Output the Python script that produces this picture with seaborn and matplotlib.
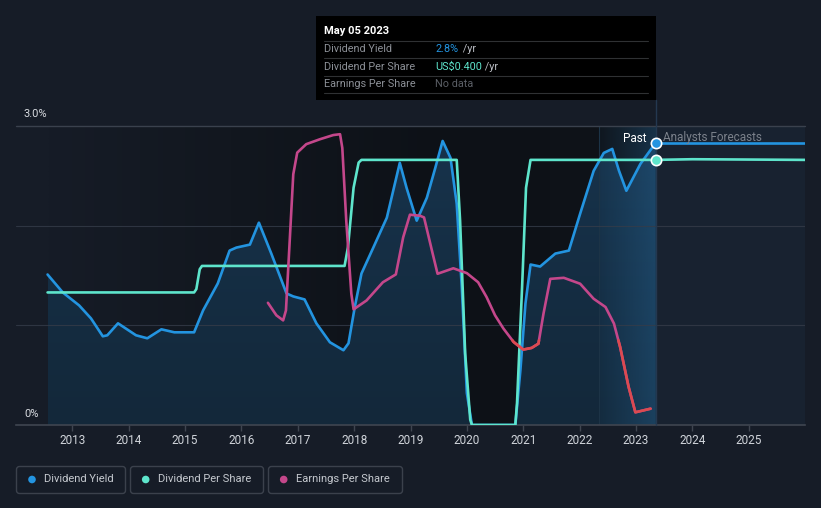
import numpy as np
import pandas as pd
import matplotlib
matplotlib.use("Agg")
import matplotlib.pyplot as plt
import seaborn as sns
from matplotlib.patches import Rectangle, FancyBboxPatch, Polygon, Circle
from matplotlib.colors import to_rgb

# ---------------- data ----------------
yield_years = [2012.56, 2012.83, 2013.12, 2013.33, 2013.54, 2013.62, 2013.81, 2014.13, 2014.33, 2014.58,
               2014.81, 2015.16, 2015.32, 2015.58, 2015.79, 2015.91, 2016.15, 2016.31, 2016.53,
               2016.80, 2016.92, 2017.12, 2017.33, 2017.57, 2017.81, 2017.90, 2018.01, 2018.13,
               2018.34, 2018.58, 2018.81, 2018.93, 2019.11, 2019.29, 2019.44, 2019.57, 2019.71,
               2019.82, 2019.91, 2020.00, 2020.09, 2020.86, 2020.95, 2021.04, 2021.13, 2021.30,
               2021.57, 2021.81, 2022.01, 2022.25, 2022.43, 2022.58, 2022.70, 2022.83, 2023.08,
               2023.35]
yield_pct = [1.51, 1.33, 1.20, 1.07, 0.89, 0.90, 1.02, 0.90, 0.87, 0.96,
             0.93, 0.93, 1.15, 1.42, 1.75, 1.78, 1.81, 2.03, 1.72,
             1.32, 1.29, 1.26, 1.02, 0.83, 0.75, 0.82, 1.18, 1.52,
             1.78, 2.08, 2.63, 2.38, 2.05, 2.28, 2.58, 2.85, 2.68,
             2.22, 1.38, 0.32, 0.00, 0.00, 0.55, 1.22, 1.61, 1.59,
             1.72, 1.75, 2.12, 2.55, 2.73, 2.77, 2.55, 2.35, 2.62,
             2.83]
fc_yield_years = [2023.35, 2026.0]
fc_yield_pct = [2.83, 2.83]

dps_years = [2012.56, 2015.16, 2015.20, 2015.26, 2015.30, 2017.83, 2017.89, 2017.99, 2018.08,
             2018.13, 2019.82, 2019.88, 2019.97, 2020.06, 2020.09, 2020.86, 2020.89, 2020.98,
             2021.05, 2021.13, 2023.35]
dps_usd = [0.20, 0.20, 0.205, 0.235, 0.24, 0.24, 0.268, 0.358, 0.396,
           0.40, 0.40, 0.308, 0.108, 0.008, 0.0, 0.0, 0.033, 0.208,
           0.358, 0.40, 0.40]
fc_dps_years = [2023.35, 2024.0, 2026.0]
fc_dps_usd = [0.40, 0.401, 0.40]

eps_years = [2016.47, 2016.62, 2016.74, 2016.79, 2016.86, 2016.92, 2016.99, 2017.15, 2017.39,
             2017.63, 2017.75, 2017.79, 2017.86, 2017.95, 2017.99, 2018.22, 2018.51, 2018.74,
             2018.87, 2018.99, 2019.17, 2019.24, 2019.38, 2019.48, 2019.76, 2020.00, 2020.20,
             2020.35, 2020.50, 2020.65, 2020.83, 2021.00, 2021.15, 2021.27, 2021.36, 2021.48,
             2021.72, 2022.01, 2022.25, 2022.46, 2022.61, 2022.72, 2022.87, 2022.99, 2023.26]
eps_usd = [0.577, 0.518, 0.494, 0.541, 0.886, 1.184, 1.286, 1.326, 1.349,
           1.369, 1.373, 1.308, 0.965, 0.620, 0.546, 0.588, 0.674, 0.711,
           0.886, 0.993, 0.988, 0.980, 0.824, 0.714, 0.740, 0.717, 0.674,
           0.604, 0.518, 0.455, 0.392, 0.356, 0.364, 0.384, 0.526, 0.690,
           0.695, 0.667, 0.596, 0.557, 0.479, 0.368, 0.180, 0.060, 0.077]

year_ticks = list(range(2013, 2026))
year_labels = [str(y) for y in year_ticks]
legend_labels = ["Dividend Yield", "Dividend Per Share", "Earnings Per Share"]

# ---------------- style ----------------
BG = "#161c27"
BLUE = "#2394e0"
TEAL = "#5ee5cc"
MAGENTA = "#c4478b"
RED = "#dc4a50"
GRID = "#353c49"
LINE_KW = dict(lw=1.9, solid_joinstyle='round', solid_capstyle='round')

sns.set_theme(style="dark")
plt.rcParams['font.family'] = ['Roboto', 'DejaVu Sans']

W, H = 821, 508
fig = plt.figure(figsize=(W / 100, H / 100), dpi=100, facecolor=BG)
ax = fig.add_axes([16 / W, 83 / H, 789 / W, 299 / H])
ax.set_facecolor(BG)

XMIN, XMAX, YMAX = 2012.0, 2026.0, 3.0
NOW = 2023.35
HL0 = 2022.35
DPS_TOP = 0.40 * YMAX / 2.66
EPS_TOP = 0.40 * YMAX / 0.85
EPS_WARN = 0.40

# past background (horizontal gradient)
x0p = yield_years[0]
stops = np.array([0.0, 0.3, 0.65, 1.0])
cols = np.array([to_rgb(c) for c in ["#161c27", "#12171f", "#0d1117", "#0f1319"]])
n = 400
t = np.linspace(0, 1, n)
grad = np.stack([np.interp(t, stops, cols[:, k]) for k in range(3)], axis=-1)[None, :, :]
ax.imshow(grad, extent=[x0p, NOW, 0, YMAX], aspect='auto', origin='lower', zorder=0.2,
          interpolation='bilinear')

# forecast background
ax.axvspan(NOW, XMAX, ymin=0, ymax=1, color="#182230", lw=0, zorder=0.3)

# fill under yield (vertical gradient, clipped)
tv = np.linspace(0, 1, 200)[:, None]
top_c = np.array(to_rgb("#17334c"))
bot_c = np.array(to_rgb("#13283a"))
fillgrad = (bot_c + (top_c - bot_c) * tv)[:, None, :].repeat(2, axis=1)
img = ax.imshow(fillgrad, extent=[x0p, NOW, 0, YMAX], aspect='auto', origin='lower',
                zorder=1, interpolation='bilinear')
verts = [(x0p, 0)] + list(zip(yield_years, yield_pct)) + [(NOW, 0)]
poly = Polygon(verts, closed=True, fc='none', ec='none', transform=ax.transData)
ax.add_patch(poly)
img.set_clip_path(poly)

# last-year highlight band
th = np.linspace(0, 1, 200)
band = np.zeros((1, 200, 4))
band[..., :3] = to_rgb("#2a6fa3")
band[..., 3] = 0.05 + 0.30 * th
ax.imshow(band, extent=[HL0, NOW, 0, YMAX], aspect='auto', origin='lower', zorder=1.5,
          interpolation='bilinear')
ax.axvline(HL0, color="#1c3346", lw=0.8, zorder=1.6)

# grid lines
for g in [1.0, 2.0]:
    ax.axhline(g, color=GRID, lw=0.8, alpha=0.8, zorder=2.5)
ax.axhline(YMAX, color="#3a414d", lw=1.0, zorder=2.5, clip_on=False)

# cursor line
ax.axvline(NOW, ymin=0, ymax=(425 - 100) / 299, color="#243850", lw=1.0, zorder=2.6, clip_on=False)

# dividend yield
sns.lineplot(x=yield_years, y=yield_pct, ax=ax, color=BLUE, zorder=3, **LINE_KW)
sns.lineplot(x=fc_yield_years, y=fc_yield_pct, ax=ax, color=BLUE, zorder=3, **LINE_KW)

ax.set_xlim(XMIN, XMAX)
ax.set_ylim(0, YMAX)

# DPS on its own scale
ax_d = ax.twinx()
ax_d.set_ylim(0, DPS_TOP)
sns.lineplot(x=dps_years, y=dps_usd, ax=ax_d, color=TEAL, zorder=3, **LINE_KW)
sns.lineplot(x=fc_dps_years, y=fc_dps_usd, ax=ax_d, color=TEAL, zorder=3, **LINE_KW)
ax_d.set_xlim(XMIN, XMAX)
ax_d.set_ylim(0, DPS_TOP)
ax_d.set_axis_off()

# EPS on its own scale
ax_e = ax.twinx()
ax_e.set_ylim(0, EPS_TOP)
sns.lineplot(x=eps_years, y=eps_usd, ax=ax_e, color=MAGENTA, zorder=3, **LINE_KW)
ex = np.array(eps_years)
ey = np.array(eps_usd)
xs, ys = [], []
for i in range(len(ex) - 1):
    xs.append(ex[i]); ys.append(ey[i])
    if (ey[i] - EPS_WARN) * (ey[i + 1] - EPS_WARN) < 0:
        f = (EPS_WARN - ey[i]) / (ey[i + 1] - ey[i])
        xs.append(ex[i] + f * (ex[i + 1] - ex[i])); ys.append(EPS_WARN)
xs.append(ex[-1]); ys.append(ey[-1])
xs = np.array(xs); ys = np.array(ys)
ax_e.plot(xs, np.where(ys <= EPS_WARN + 1e-9, ys, np.nan), color=RED, zorder=4, **LINE_KW)
ax_e.set_xlim(XMIN, XMAX)
ax_e.set_ylim(0, EPS_TOP)
ax_e.set_axis_off()

# markers at "now" (on top of everything)
ax_m = ax.twinx()
ax_m.set_ylim(0, DPS_TOP)
ax_m.scatter([fc_dps_years[0]], [fc_dps_usd[0]], s=55, color=TEAL, edgecolor="white", lw=1.2, zorder=6)
ax_m.set_axis_off()
ax_m2 = ax.twinx()
ax_m2.set_ylim(0, YMAX)
ax_m2.scatter([fc_yield_years[0]], [fc_yield_pct[0]], s=55, color=BLUE, edgecolor="white", lw=1.2, zorder=6)
ax_m2.set_xlim(XMIN, XMAX)
ax_m2.set_ylim(0, YMAX)
ax_m2.set_axis_off()
ax_m.set_xlim(XMIN, XMAX)

# axes styling
for s in ["top", "left", "right"]:
    ax.spines[s].set_visible(False)
ax.spines["bottom"].set_color("#3f4550")
ax.spines["bottom"].set_linewidth(1.2)
ax.set_yticks([])
ax.set_xticks(year_ticks)
ax.set_xticklabels(year_labels)
ax.tick_params(axis='x', length=4, width=1, color="#3f4550", labelcolor="#d0d4da",
               labelsize=8.5, pad=2.5, bottom=True)
ax.grid(False)
ax.set_xlabel("")
ax.set_ylabel("")
for a in (ax, ax_d, ax_e):
    leg = a.get_legend()
    if leg:
        leg.remove()

# ---------------- overlay in pixel coords ----------------
ov = fig.add_axes([0, 0, 1, 1])
ov.set_xlim(0, W)
ov.set_ylim(H, 0)
ov.axis('off')

ov.text(24, 114, "3.0%", color="#d8dbe0", fontsize=8, ha='left', va='center')
ov.text(24, 414, "0%", color="#d8dbe0", fontsize=8, ha='left', va='center')
ov.text(646, 138, "Past", color="white", fontsize=8.5, ha='right', va='center')
ov.text(663, 138, "Analysts Forecasts", color="#7b818b", fontsize=8.5, ha='left', va='center')

# tooltip
ov.add_patch(Rectangle((316, 16), 340, 84, fc="black", ec="none", zorder=5))
ov.text(324, 31, "May 05 2023", color="white", fontsize=8, weight='semibold', ha='left',
        va='center', zorder=6)
for yy in [41, 58, 75.5, 93]:
    ov.plot([324, 648], [yy, yy], color="#2f3133", lw=0.8, zorder=6)
rows = [("Dividend Yield", "2.8%", BLUE, " /yr", 460),
        ("Dividend Per Share", "US$0.400", TEAL, " /yr", 482),
        ("Earnings Per Share", "No data", "#5b5f66", "", 0)]
for i, (lab, val, col, suf, sx) in enumerate(rows):
    yy = 49.5 + i * 17.3
    ov.text(324, yy, lab, color="#8c9097", fontsize=7.8, ha='left', va='center', zorder=6)
    ov.text(435, yy, val, color=col, fontsize=7.8, ha='left', va='center', zorder=6)
    if suf:
        ov.text(sx, yy, suf, color="#b9bcc2", fontsize=7.8, ha='left', va='center', zorder=6)

# legend
boxes = [(16.5, 125.5), (130.5, 263.5), (268.5, 402.5)]
dots = [32, 145.7, 283.7]
dcols = [BLUE, TEAL, MAGENTA]
for (bx0, bx1), dx, dc, lab in zip(boxes, dots, dcols, legend_labels):
    ov.add_patch(FancyBboxPatch((bx0, 466.5), bx1 - bx0, 27, boxstyle="round,pad=0,rounding_size=3",
                                fc="none", ec="#3b414c", lw=1.0))
    ov.add_patch(Circle((dx, 479.5), 3.8, fc=dc, ec="none"))
    ov.text(dx + 12.5, 479.5, lab, color="#c5c9cf", fontsize=8, ha='left', va='center')

fig.savefig("out.png", dpi=100, facecolor=BG)
